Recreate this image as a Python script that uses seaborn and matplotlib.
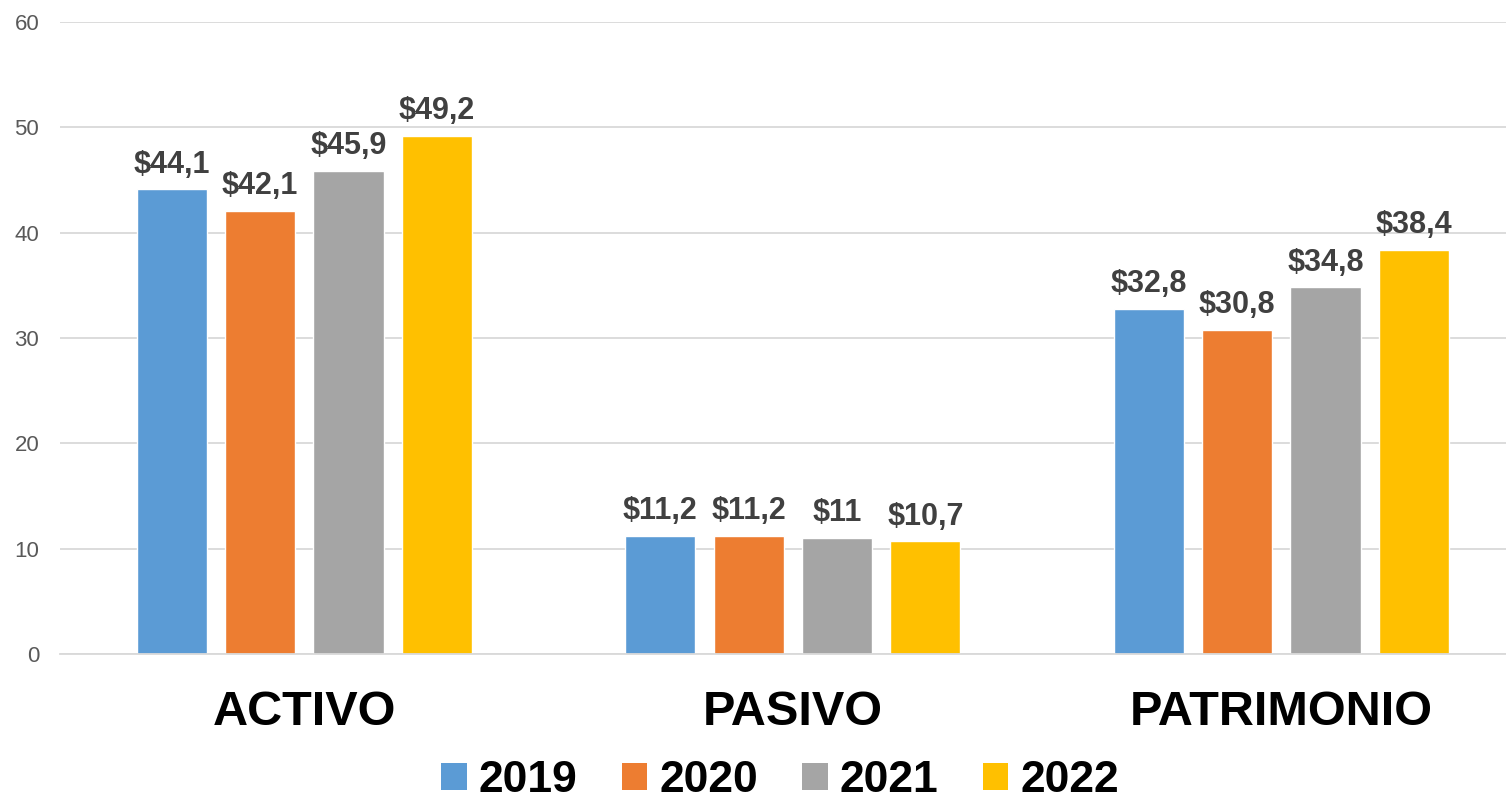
import matplotlib

matplotlib.use("Agg")
import matplotlib.pyplot as plt
import pandas as pd
import seaborn as sns
from matplotlib.patches import Patch

CATEGORIES = ["ACTIVO", "PASIVO", "PATRIMONIO"]
YEARS = ["2019", "2020", "2021", "2022"]
VALUES_2019 = [44.1, 11.2, 32.8]
VALUES_2020 = [42.1, 11.2, 30.8]
VALUES_2021 = [45.9, 11.0, 34.8]
VALUES_2022 = [49.2, 10.7, 38.4]
COLORS = ["#5B9BD5", "#ED7D31", "#A5A5A5", "#FFC000"]


def money(value: float) -> str:
    text = f"{value:.1f}".rstrip("0").rstrip(".")
    return "$" + text.replace(".", ",")


def main() -> None:
    series = [VALUES_2019, VALUES_2020, VALUES_2021, VALUES_2022]
    rows = []
    for year, values in zip(YEARS, series):
        for category, value in zip(CATEGORIES, values):
            rows.append({"category": category, "year": year, "value": value})
    data = pd.DataFrame(rows)

    sns.set_theme(style="white")
    plt.rcParams["font.family"] = ["Liberation Sans", "DejaVu Sans"]

    fig = plt.figure(figsize=(15.06, 8.05), dpi=100)
    ax = fig.add_axes([60 / 1506, 151 / 805, 1 - 60 / 1506, (655 - 23) / 805])
    palette = dict(zip(YEARS, COLORS))
    sns.barplot(
        data=data,
        x="category",
        y="value",
        hue="year",
        order=CATEGORIES,
        hue_order=YEARS,
        palette=palette,
        width=0.724,
        gap=0.207,
        saturation=1,
        legend=False,
        ax=ax,
    )

    for container, values in zip(ax.containers, series):
        ax.bar_label(
            container,
            labels=[money(v) for v in values],
            padding=7,
            fontsize=22,
            fontweight="bold",
            color="#404040",
        )

    ax.set_ylim(0, 60)
    ax.set_xlim(-0.5, 2.46)
    ax.set_yticks(range(0, 61, 10))
    ax.yaxis.grid(True, color="#D9D9D9", linewidth=1.3)
    ax.set_axisbelow(True)
    for side in ["left", "right", "top"]:
        ax.spines[side].set_visible(False)
    ax.spines["bottom"].set_color("#D9D9D9")
    ax.spines["bottom"].set_linewidth(1.3)
    ax.tick_params(axis="y", length=0, pad=15, labelsize=16, labelcolor="#595959")
    ax.tick_params(axis="x", length=0, pad=26, labelsize=35, labelcolor="black")
    for label in ax.get_xticklabels():
        label.set_fontweight("bold")
    ax.set_xlabel("")
    ax.set_ylabel("")

    handles = [Patch(facecolor=c, edgecolor="none", label=y) for y, c in zip(YEARS, COLORS)]
    fig.legend(
        handles=handles,
        loc="lower center",
        bbox_to_anchor=(0.518, -0.045),
        ncol=4,
        frameon=False,
        prop={"size": 32, "weight": "bold"},
        labelcolor="black",
        handlelength=0.57,
        handleheight=0.57,
        handletextpad=0.27,
        columnspacing=1.0,
    )

    fig.savefig("out.png", dpi=100)
    plt.close(fig)


if __name__ == "__main__":
    main()
